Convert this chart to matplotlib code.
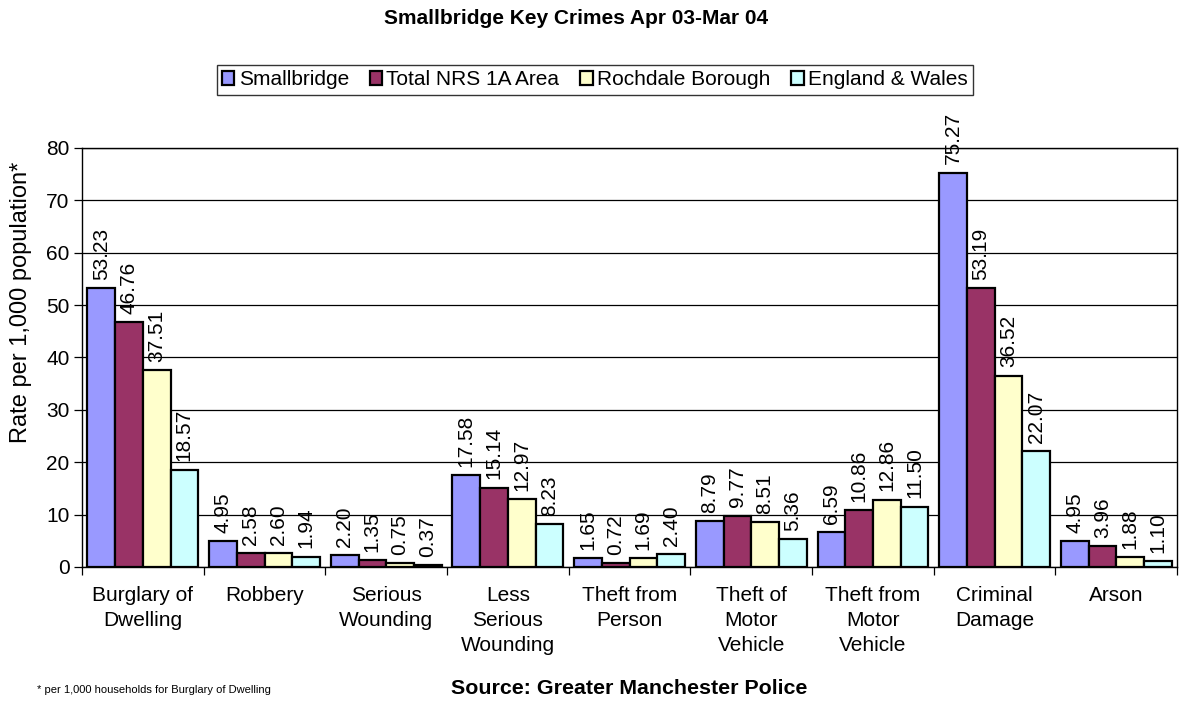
import matplotlib.pyplot as plt
import numpy as np

plt.rcParams['font.family'] = ['Liberation Sans', 'DejaVu Sans']

categories = ['Burglary of\nDwelling', 'Robbery', 'Serious\nWounding', 'Less\nSerious\nWounding',
              'Theft from\nPerson', 'Theft of\nMotor\nVehicle', 'Theft from\nMotor\nVehicle',
              'Criminal\nDamage', 'Arson']
series_names = ['Smallbridge', 'Total NRS 1A Area', 'Rochdale Borough', 'England & Wales']
smallbridge = [53.23, 4.95, 2.20, 17.58, 1.65, 8.79, 6.59, 75.27, 4.95]
nrs_area = [46.76, 2.58, 1.35, 15.14, 0.72, 9.77, 10.86, 53.19, 3.96]
rochdale = [37.51, 2.60, 0.75, 12.97, 1.69, 8.51, 12.86, 36.52, 1.88]
england_wales = [18.57, 1.94, 0.37, 8.23, 2.40, 5.36, 11.50, 22.07, 1.10]
colors = ['#9999FF', '#993366', '#FFFFCC', '#CCFFFF']

FS = 15

fig = plt.figure(figsize=(11.8, 7.01), dpi=100)
ax = fig.add_axes([0.0695, 0.1912, 0.928, 0.5978])

x = np.arange(len(categories))
width = 0.2275
all_series = [smallbridge, nrs_area, rochdale, england_wales]
handles = []
for i, vals in enumerate(all_series):
    pos = x + (i - 1.5) * width
    b = ax.bar(pos, vals, width, color=colors[i], edgecolor='black', linewidth=1.6, zorder=3,
               label=series_names[i])
    handles.append(b)
    for p, v in zip(pos, vals):
        ax.annotate('%.2f' % v, (p, v), xytext=(0, 6), textcoords='offset points',
                    rotation=90, ha='center', va='bottom', fontsize=FS, zorder=4)

ax.set_xlim(-0.5, len(categories) - 0.5)
ax.set_ylim(0, 80)
ax.set_yticks(range(0, 81, 10))
ax.yaxis.grid(True, color='black', linewidth=0.9, zorder=0)
ax.set_xticks(np.arange(-0.5, len(categories), 1.0))
ax.set_xticklabels([])
ax.set_xticks(x, minor=True)
ax.set_xticklabels(categories, minor=True, fontsize=FS, linespacing=1.38)
ax.tick_params(axis='x', which='minor', length=0, pad=14)
ax.tick_params(axis='x', which='major', length=6, width=0.9, direction='out')
ax.tick_params(axis='y', length=6, width=0.9, labelsize=FS, pad=3)
for s in ax.spines.values():
    s.set_linewidth(1.0)

# y axis title sits higher than the axes centre in the original
fig.text(0.018, 0.569, 'Rate per 1,000 population*', fontsize=17, rotation=90,
         ha='center', va='center')

fig.text(0.488, 0.974, 'Smallbridge Key Crimes Apr 03-Mar 04', ha='center', va='center',
         fontsize=15, fontweight='bold')
leg = fig.legend(handles=handles, labels=series_names, loc='center', bbox_to_anchor=(0.504, 0.886),
                 ncol=4, fontsize=FS, frameon=True, fancybox=False, edgecolor='black',
                 handlelength=0.6, handleheight=0.6, handletextpad=0.2, columnspacing=1.0,
                 borderpad=0.25)
leg.get_frame().set_linewidth(1.0)

fig.text(0.031, 0.016, '* per 1,000 households for Burglary of Dwelling', fontsize=8, ha='left',
         va='center')
fig.text(0.533, 0.018, 'Source: Greater Manchester Police', fontsize=15.4, fontweight='bold',
         ha='center', va='center')

fig.savefig('out.png', dpi=100)
